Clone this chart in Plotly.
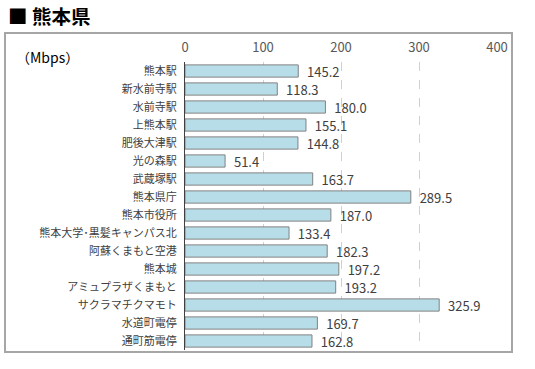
import plotly.graph_objects as go

categories = ["熊本駅", "新水前寺駅", "水前寺駅", "上熊本駅", "肥後大津駅", "光の森駅", "武蔵塚駅",
              "熊本県庁", "熊本市役所", "熊本大学･黒髪キャンパス北", "阿蘇くまもと空港", "熊本城",
              "アミュプラザくまもと", "サクラマチクマモト", "水道町電停", "通町筋電停"]
values = [145.2, 118.3, 180.0, 155.1, 144.8, 51.4, 163.7, 289.5, 187.0, 133.4, 182.3, 197.2,
          193.2, 325.9, 169.7, 162.8]
tick_vals = [0, 100, 200, 300, 400]

W, H = 535, 369
L, R, T, B = 185, 497, 62, 350

fig = go.Figure(go.Bar(
    x=values, y=categories, orientation="h",
    marker=dict(color="#B7DEE8", line=dict(color="#808080", width=1)),
    width=0.68,
    text=["\u00a0\u00a0" + f"{v:.1f}" for v in values], textposition="outside",
    constraintext="none",
    textfont=dict(size=13, color="#404040", family="Noto Sans CJK JP"),
    cliponaxis=False,
    hoverinfo="skip",
))

def px(x):
    return (x - L) / (R - L)

def py(y):
    return (B - y) / (B - T)

fig.add_shape(type="rect", xref="paper", yref="paper",
              x0=px(5), x1=px(512), y0=py(352), y1=py(33),
              line=dict(color="#A6A6A6", width=2), layer="below")

fig.add_annotation(text="<b>■ 熊本県</b>", xref="paper", yref="paper", x=px(6), y=py(16),
                   xanchor="left", yanchor="middle", showarrow=False,
                   font=dict(size=19.5, color="#000000", family="Noto Sans CJK JP"))
fig.add_annotation(text="（Mbps）", xref="paper", yref="paper", x=px(14), y=py(57),
                   xanchor="left", yanchor="middle", showarrow=False,
                   font=dict(size=14, color="#000000", family="Noto Sans CJK JP"))

fig.update_layout(
    width=W, height=H,
    margin=dict(l=L, r=W - R, t=T, b=H - B),
    paper_bgcolor="white", plot_bgcolor="white",
    showlegend=False,
    font=dict(family="Noto Sans CJK JP", color="#404040", size=12),
    xaxis=dict(range=[0, 400], side="top", tickvals=tick_vals, showgrid=True,
               gridcolor="#D0D0D0", griddash="dash", gridwidth=1, zeroline=False,
               showline=False, ticks="", automargin=False, ticklabelstandoff=6,
               tickfont=dict(size=13, color="#595959")),
    yaxis=dict(autorange="reversed", showline=True, linecolor="#404040", linewidth=1,
               ticks="", ticklen=0, automargin=False, ticklabelstandoff=5,
               tickfont=dict(size=11, color="#404040"), showgrid=False),
)

fig.write_html("out.html", config={"displayModeBar": False},
               post_script="document.body.style.margin='0';")
